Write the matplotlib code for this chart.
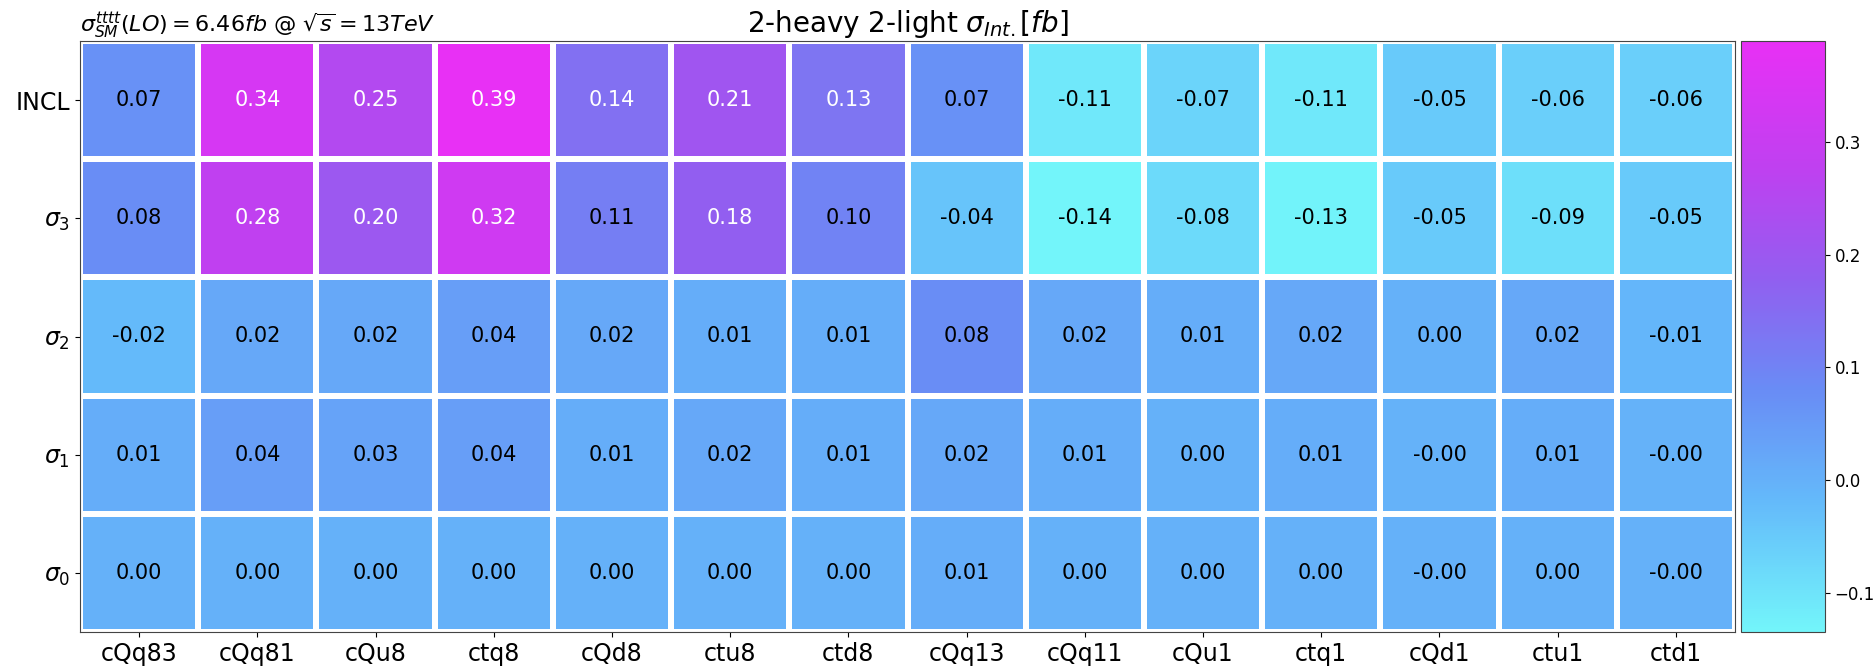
import numpy as np
import matplotlib
matplotlib.use('Agg')
import matplotlib.pyplot as plt
from matplotlib.colors import LinearSegmentedColormap

# Coeficientes de Wilson (columnas) y observables (filas)
coeficientes = ['cQq83', 'cQq81', 'cQu8', 'ctq8', 'cQd8', 'ctu8', 'ctd8',
                'cQq13', 'cQq11', 'cQu1', 'ctq1', 'cQd1', 'ctu1', 'ctd1']
filas = ['INCL', r'$\sigma_3$', r'$\sigma_2$', r'$\sigma_1$', r'$\sigma_0$']

incl = [0.07, 0.34, 0.25, 0.39, 0.14, 0.21, 0.13, 0.07, -0.11, -0.07, -0.11, -0.05, -0.06, -0.06]
sigma3 = [0.08, 0.28, 0.20, 0.32, 0.11, 0.18, 0.10, -0.04, -0.135, -0.08, -0.13, -0.05, -0.09, -0.05]
sigma2 = [-0.02, 0.02, 0.02, 0.04, 0.02, 0.01, 0.01, 0.08, 0.02, 0.01, 0.02, 0.00, 0.02, -0.01]
sigma1 = [0.01, 0.04, 0.03, 0.04, 0.01, 0.02, 0.01, 0.02, 0.01, 0.00, 0.01, -0.002, 0.01, -0.002]
sigma0 = [0.00, 0.00, 0.00, 0.00, 0.00, 0.00, 0.00, 0.01, 0.00, 0.00, 0.00, -0.001, 0.00, -0.001]

datos = np.array([incl, sigma3, sigma2, sigma1, sigma0])

# Mapa de color tipo "cool" algo mas suave, como en la figura original
colores = [(0.0, (115, 245, 250)), (0.223, (100, 185, 250)), (0.41, (105, 140, 245)),
           (0.596, (145, 95, 240)), (0.78, (190, 65, 240)), (1.0, (232, 48, 245))]
cmap = LinearSegmentedColormap.from_list(
    'cool_suave', [(p, tuple(c / 255 for c in rgb)) for p, rgb in colores])

fig = plt.figure(figsize=(18.75, 6.68), dpi=100)
ax = fig.add_axes([80 / 1875, 36 / 668, 1655 / 1875, 591 / 668])
cax = fig.add_axes([1741 / 1875, 36 / 668, 84 / 1875, 591 / 668])

vmin, vmax = datos.min(), datos.max()
malla = ax.pcolormesh(datos, cmap=cmap, vmin=vmin, vmax=vmax,
                      edgecolors='white', linewidth=3.2)
ax.set_xlim(0, datos.shape[1])
ax.set_ylim(datos.shape[0], 0)

for i in range(datos.shape[0]):
    for j in range(datos.shape[1]):
        v = datos[i, j]
        color = 'white' if v > 0.12 else 'black'
        ax.text(j + 0.5, i + 0.5, f'{v:.2f}', ha='center', va='center',
                fontsize=15, color=color)

ax.set_xticks(np.arange(datos.shape[1]) + 0.5)
ax.set_xticklabels(coeficientes, fontsize=17)
ax.set_yticks(np.arange(datos.shape[0]) + 0.5)
ax.set_yticklabels(filas, fontsize=17)
for s in ax.spines.values():
    s.set_color('#444444')

ax.set_title(r'2-heavy 2-light $\sigma_{Int.}[fb]$', fontsize=20, pad=4)
ax.set_title(r'$\sigma_{SM}^{tttt}(LO) = 6.46fb$ @ $\sqrt{s} = 13TeV$',
             loc='left', fontsize=16, pad=4)

cb = fig.colorbar(malla, cax=cax)
cb.set_ticks([-0.1, 0.0, 0.1, 0.2, 0.3])
cb.ax.tick_params(labelsize=12)
cb.outline.set_edgecolor('#444444')

plt.savefig('out.png', dpi=100)
